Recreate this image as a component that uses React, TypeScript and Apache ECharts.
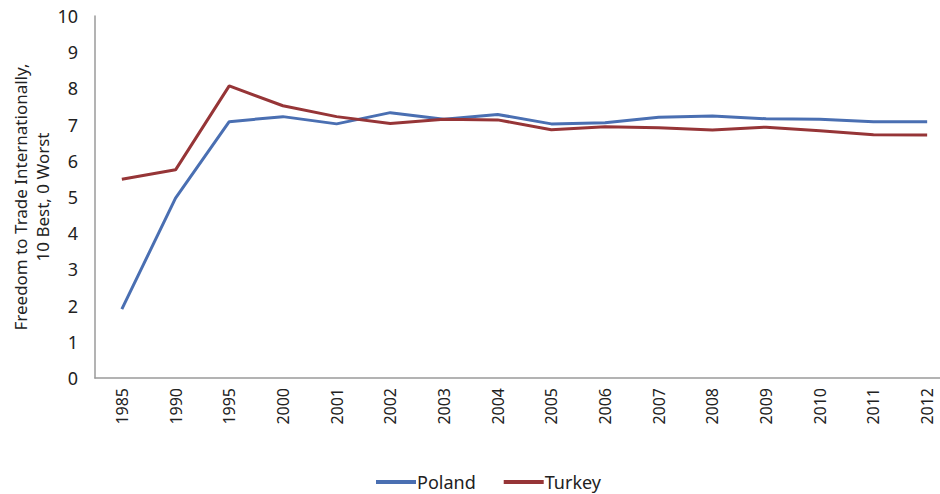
import React, { useEffect, useRef } from "react";
import * as echarts from "echarts";

const years = ["1985","1990","1995","2000","2001","2002","2003","2004","2005","2006","2007","2008","2009","2010","2011","2012"];
const poland = [1.9, 4.97, 7.08, 7.22, 7.02, 7.33, 7.15, 7.28, 7.02, 7.05, 7.2, 7.24, 7.16, 7.15, 7.08, 7.08];
const turkey = [5.49, 5.75, 8.07, 7.52, 7.22, 7.03, 7.15, 7.13, 6.86, 6.94, 6.91, 6.85, 6.93, 6.83, 6.72, 6.71];
const yTicks = { min: 0, max: 10, interval: 1 };

export default function App() {
  const ref = useRef<HTMLDivElement>(null);
  useEffect(() => {
    if (!ref.current) return;
    const chart = echarts.init(ref.current, undefined, { renderer: "svg" });
    const font = "'Noto Sans', 'Open Sans', sans-serif";
    chart.setOption({
      animation: false,
      backgroundColor: "#ffffff",
      grid: { left: 95, top: 16, bottom: 116, right: -14, containLabel: false, outerBoundsMode: "none" },
      legend: {
        data: ["Poland", "Turkey"],
        top: 473,
        left: 376,
        padding: 0,
        icon: "rect",
        itemWidth: 40,
        itemHeight: 4,
        itemGap: 28,
        textStyle: { fontSize: 18, color: "#222", fontFamily: font, padding: [0, 0, 0, -4] },
      },
      xAxis: {
        type: "category",
        data: years,
        boundaryGap: true,
        axisLine: { lineStyle: { color: "#9a9a9a", width: 1.5 } },
        axisTick: { show: false },
        axisLabel: { rotate: 90, fontSize: 16, color: "#222", margin: 10, fontFamily: font },
        splitLine: { show: false },
      },
      yAxis: {
        type: "value",
        min: yTicks.min,
        max: yTicks.max,
        interval: yTicks.interval,
        name: "Freedom to Trade Internationally,\n10 Best, 0 Worst",
        nameLocation: "middle",
        nameGap: 42,
        nameRotate: 90,
        nameMoveOverlap: false,
        nameTextStyle: { fontSize: 17, color: "#222", fontFamily: font, lineHeight: 22 },
        axisLine: { show: true, lineStyle: { color: "#9a9a9a", width: 1.5 } },
        axisTick: { show: false },
        axisLabel: { fontSize: 18, color: "#222", margin: 17, fontFamily: font },
        splitLine: { show: false },
      },
      series: [
        {
          name: "Poland",
          type: "line",
          data: poland,
          symbol: "none",
          lineStyle: { color: "#4A6FB2", width: 3 },
          itemStyle: { color: "#4A6FB2" },
        },
        {
          name: "Turkey",
          type: "line",
          data: turkey,
          symbol: "none",
          lineStyle: { color: "#963537", width: 3 },
          itemStyle: { color: "#963537" },
        },
      ],
    });
    return () => chart.dispose();
  }, []);
  return <div ref={ref} style={{ width: 940, height: 494, position: "absolute", left: 0, top: 0 }} />;
}
